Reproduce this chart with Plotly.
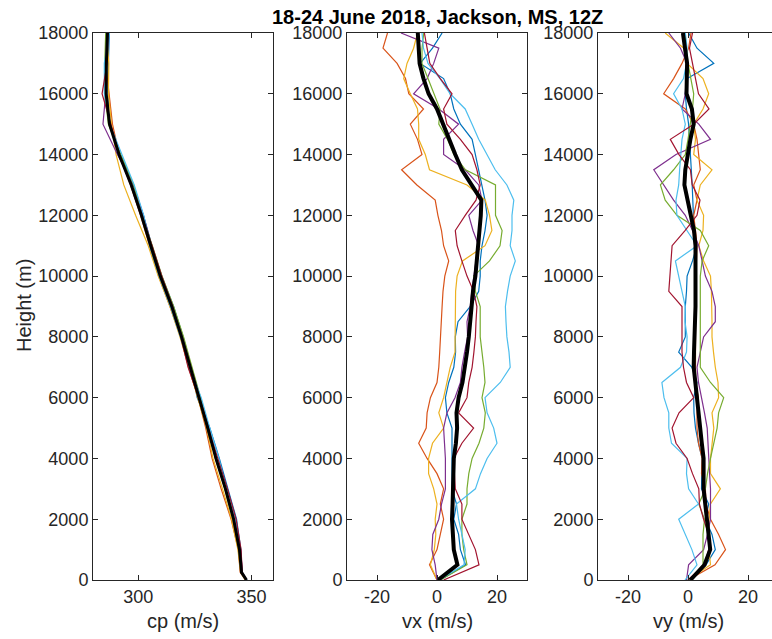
import plotly.graph_objects as go

# ---------------- data ----------------
colors = ["#0072BD", "#D95319", "#EDB120", "#7E2F8E", "#77AC30", "#4DBEEE", "#A2142F"]

heights = [0, 500, 1000, 1500, 2000, 2500, 3000, 3500, 4000, 4500, 5000, 5500, 6000,
           6500, 7000, 7500, 8000, 8500, 9000, 9500, 10000, 10500, 11000, 11500, 12000,
           12500, 13000, 13500, 14000, 14500, 15000, 15500, 16000, 16500, 17000, 17500, 18000]

heights_cp = [0, 250, 1000, 2000, 3000, 4000, 5000, 6000, 7000, 8000, 9000, 10000,
              11000, 12000, 13000, 14000, 15000, 16000, 17000, 18000]

# sound speed cp (m/s), one list per sounding
cp_1 = [348.0, 345.6, 345.3, 343.4, 339.6, 335.8, 331.6, 326.0, 323.4, 319.8, 315.6, 310.4, 306.0, 302.3, 297.8, 292.2, 287.0, 286.6, 286.8, 287.2]
cp_2 = [347.5, 345.0, 344.2, 341.0, 336.6, 332.6, 329.8, 326.4, 322.2, 318.6, 314.0, 309.0, 305.0, 301.0, 296.6, 291.6, 288.6, 287.2, 285.6, 286.0]
cp_3 = [347.2, 345.2, 344.0, 341.2, 337.2, 333.0, 330.2, 326.2, 322.4, 318.4, 314.0, 308.8, 304.4, 298.8, 293.6, 290.2, 288.2, 286.8, 287.0, 286.0]
cp_4 = [347.6, 346.0, 345.2, 342.6, 338.4, 334.0, 331.2, 327.4, 323.3, 319.7, 315.4, 310.2, 306.0, 302.2, 297.9, 290.8, 284.4, 285.6, 285.6, 286.8]
cp_5 = [347.8, 345.4, 344.4, 341.8, 338.2, 334.4, 330.4, 327.5, 323.6, 320.0, 315.6, 310.5, 306.2, 301.5, 298.0, 292.2, 286.8, 285.2, 285.2, 285.6]
cp_6 = [347.9, 345.8, 344.8, 342.8, 338.8, 335.6, 331.6, 327.8, 322.6, 318.6, 314.2, 309.2, 305.0, 302.4, 298.2, 292.8, 287.4, 285.0, 285.0, 287.2]
cp_7 = [347.4, 345.9, 345.4, 343.2, 339.4, 335.2, 331.0, 326.6, 322.0, 318.8, 315.2, 310.4, 306.1, 301.2, 296.8, 291.4, 287.9, 284.0, 286.2, 286.6]
cp_mean = [347.8, 345.6, 344.7, 342.1, 338.5, 334.3, 330.7, 326.8, 322.8, 319.1, 314.8, 309.7, 305.5, 301.4, 296.9, 291.5, 287.3, 285.8, 285.9, 286.4]

# east wind vx (m/s)
vx_1 = [1.1, 9.5, 7.8, 7.2, 5.6, 6.5, 5.0, 5.0, 5.0, 5.0, 5.0, 3.3, 2.8, 3.9, 5.6, 6.2, 6.1, 7.0, 11.1, 13.9, 14.4, 14.4, 15.0, 16.0, 16.7, 16.0, 15.0, 13.9, 12.8, 11.7, 7.8, 5.6, 4.4, 2.2, -5.6, -1.5, 1.7]
vx_2 = [0.0, -2.5, 0.0, 1.0, 2.2, 1.1, 2.2, 0.0, -3.3, -6.1, -3.6, -3.3, -2.2, 0.0, 0.6, 0.9, 1.1, 1.4, 1.7, 2.0, 2.6, 3.9, 2.2, 1.5, 0.3, -0.6, -6.7, -11.8, -5.0, -6.5, -8.9, -4.5, -9.4, -10.5, -13.3, -18.0, -16.5]
vx_3 = [0.0, -2.2, -0.9, -0.4, -0.6, 0.0, -1.1, -2.8, -2.8, -1.5, 2.2, 0.6, 2.2, 3.3, 4.4, 6.0, 6.1, 6.1, 6.1, 6.2, 6.7, 8.5, 16.0, 18.3, 17.5, 16.1, 10.0, -2.5, -3.9, -6.1, -6.1, -6.5, -8.9, -11.1, -10.0, -7.8, -6.5]
vx_4 = [0.0, -0.6, -1.7, -1.4, 0.6, 1.5, 2.8, 2.8, 2.8, 2.5, 2.2, 3.3, 6.0, 7.8, 8.3, 9.2, 10.2, 10.0, 11.1, 11.6, 12.2, 13.0, 13.9, 12.0, 10.6, 15.0, 13.9, 9.4, 2.2, 2.2, 7.2, 0.6, -7.8, -3.3, -1.1, 0.6, -12.0]
vx_5 = [1.1, 10.0, 8.9, 8.3, 8.3, 10.0, 10.0, 10.6, 11.7, 14.0, 15.6, 16.1, 15.0, 16.0, 15.6, 15.0, 14.4, 14.4, 14.4, 12.8, 12.2, 17.5, 21.0, 21.7, 19.5, 19.5, 19.5, 9.5, 5.6, 3.5, 0.6, 1.0, -1.1, -3.0, -5.0, -5.0, -4.4]
vx_6 = [0.6, 9.0, 9.4, 8.3, 7.2, 6.5, 12.8, 14.5, 16.7, 20.0, 18.9, 16.7, 16.0, 21.1, 24.4, 24.0, 23.3, 23.0, 22.8, 23.5, 24.4, 26.1, 24.4, 25.0, 25.0, 25.6, 23.3, 19.4, 16.7, 13.9, 11.7, 9.4, 4.4, 1.0, -3.0, -4.5, -5.0]
vx_7 = [2.2, 14.0, 12.8, 10.6, 8.3, 8.3, 6.1, 5.8, 5.6, 8.3, 12.2, 7.2, 10.0, 10.6, 11.7, 12.3, 12.8, 13.0, 13.3, 12.2, 10.0, 8.3, 6.7, 6.1, 9.4, 13.0, 14.4, 13.3, 11.7, 7.8, 3.3, 2.2, 5.0, 1.1, -2.4, -3.3, -4.2]
vx_mean = [0.3, 6.8, 5.6, 5.2, 5.0, 5.2, 5.4, 5.5, 5.6, 6.3, 6.7, 6.5, 7.2, 8.5, 9.4, 10.0, 10.6, 11.0, 11.3, 12.0, 12.8, 13.3, 13.9, 14.2, 14.6, 14.8, 11.7, 8.3, 6.1, 4.0, 2.2, 0.0, -2.8, -4.5, -5.8, -6.2, -6.4]

# north wind vy (m/s)
vy_1 = [0.0, 6.0, 9.1, 8.0, 5.8, 6.9, 4.5, 4.7, 4.7, 3.5, 2.5, 2.0, 1.9, 3.0, 1.3, -3.1, -0.9, -0.9, -0.9, -0.5, -0.3, 1.5, 3.0, 2.0, 1.9, 1.6, 1.4, 1.1, 0.8, 0.5, 0.2, -0.5, -0.9, -0.3, 8.6, 3.0, 0.2]
vy_2 = [0.0, 9.0, 12.5, 10.2, 7.5, 6.0, 5.8, 4.5, 4.7, 3.5, 3.0, 3.0, 3.5, 2.5, 2.5, 2.5, 2.5, 2.5, 2.5, 2.5, 2.5, 2.8, 3.0, 2.5, 1.9, 3.0, 1.9, 4.1, 3.6, 3.0, 1.9, -0.9, -8.1, -4.8, -2.0, 0.2, 1.0]
vy_3 = [0.0, 7.5, 7.0, 7.2, 7.0, 7.5, 10.8, 7.5, 7.5, 8.0, 8.6, 8.0, 10.2, 10.0, 9.1, 8.5, 8.0, 8.0, 8.0, 7.8, 7.5, 5.2, 3.6, 5.0, 5.2, 3.0, 4.1, 8.0, 1.9, 2.5, 1.9, 5.0, 6.9, 5.0, -0.3, -1.4, -7.6]
vy_4 = [-0.5, 0.2, 5.2, 6.5, 7.5, 7.5, 7.5, 7.2, 6.9, 6.6, 6.4, 5.5, 4.5, 3.5, 3.0, 4.0, 5.2, 9.1, 9.1, 8.0, 5.8, 4.7, 3.6, 1.5, -0.9, -4.8, -8.1, -11.4, -4.0, 7.5, 3.6, -2.0, -0.9, -0.5, -0.3, -2.5, -6.4]
vy_5 = [0.5, 5.0, 5.0, 5.0, 5.5, 3.6, 5.8, 6.5, 7.5, 8.5, 9.7, 10.2, 11.9, 7.5, 4.1, 4.1, 4.1, 4.1, 4.1, 4.1, 4.1, 4.7, 6.9, 4.1, -3.7, -7.6, -9.2, -4.8, -0.9, 0.0, 0.8, 1.5, 1.9, 1.0, 0.0, -0.5, -1.0]
vy_6 = [-1.0, 3.0, 1.3, -1.0, -3.1, 3.5, 0.2, -0.5, -0.3, -5.5, -6.4, -6.4, -8.0, -8.7, -2.5, -0.5, -0.3, -1.0, -0.9, -2.0, -3.0, -4.2, 3.0, -0.5, -3.7, -4.0, -3.1, -2.8, -2.5, -2.0, -0.9, -2.0, -4.8, -1.5, -0.5, -0.3, -0.9]
vy_7 = [0.0, 5.5, 6.9, 6.9, 5.2, 3.8, 3.6, 1.5, -0.3, -4.0, -5.3, -3.0, 1.9, -0.5, -1.5, -2.0, -2.0, -2.0, -2.0, -6.4, -6.0, -5.5, -5.3, -1.0, 3.0, 4.0, 1.4, 0.8, -3.0, -5.9, 1.9, 7.0, 3.5, 2.5, 1.5, 0.5, 1.5]
vy_mean = [0.8, 5.5, 7.4, 6.8, 6.3, 5.8, 5.2, 5.2, 5.2, 4.6, 4.1, 3.5, 3.0, 2.5, 1.9, 2.0, 2.2, 2.5, 2.5, 2.5, 2.5, 2.5, 2.5, 2.0, 1.0, -0.3, -1.2, -0.9, -0.1, 0.8, 1.9, 1.3, -0.5, -0.5, -0.3, -1.0, -1.7]

cp_series = [cp_1, cp_2, cp_3, cp_4, cp_5, cp_6, cp_7]
vx_series = [vx_1, vx_2, vx_3, vx_4, vx_5, vx_6, vx_7]
vy_series = [vy_1, vy_2, vy_3, vy_4, vy_5, vy_6, vy_7]

y_ticks = [0, 2000, 4000, 6000, 8000, 10000, 12000, 14000, 16000, 18000]
y_ticktext = ["0", "2000", "4000", "6000", "8000", "10000", "12000", "14000", "16000", "18000"]
cp_ticks = [300, 350]
cp_ticktext = ["300", "350"]
v_ticks = [-20, 0, 20]
v_ticktext = ["-20", "0", "20"]

title_text = "18-24 June 2018, Jackson, MS, 12Z"
xlabels = ["cp (m/s)", "vx (m/s)", "vy (m/s)"]
ylabel = "Height (m)"

# ---------------- figure ----------------
W, H = 772, 639
FONT = "Liberation Sans, Arial, Helvetica, sans-serif"
AX = "#262626"

fig = go.Figure()

panels = [(cp_series, cp_mean, heights_cp, "x", "y", 3),
          (vx_series, vx_mean, heights, "x2", "y2", 4),
          (vy_series, vy_mean, heights, "x3", "y3", 4)]
for series, mean, hts, xa, ya, mw in panels:
    for vals, col in zip(series, colors):
        fig.add_trace(go.Scatter(x=vals, y=hts, mode="lines", xaxis=xa, yaxis=ya,
                                 line=dict(color=col, width=1.2), showlegend=False,
                                 hoverinfo="skip"))
    fig.add_trace(go.Scatter(x=mean, y=hts, mode="lines", xaxis=xa, yaxis=ya,
                             line=dict(color="black", width=mw), showlegend=False,
                             hoverinfo="skip"))

def px_x(p):
    return p / W

def px_y(p):
    return 1 - p / H

ydom = [px_y(580), px_y(33)]

common = dict(showline=True, linecolor=AX, linewidth=1, ticks="inside", ticklen=5,
              tickcolor=AX, tickwidth=1, showgrid=False, zeroline=False, automargin=False,
              tickfont=dict(family=FONT, size=18, color=AX))

fig.update_layout(
    template="none",
    width=W, height=H,
    margin=dict(l=0, r=0, t=0, b=0, autoexpand=False),
    paper_bgcolor="white", plot_bgcolor="white",
    xaxis=dict(domain=[px_x(93), px_x(273)], range=[280, 359.5], tickvals=cp_ticks,
               ticktext=cp_ticktext, anchor="y", mirror="ticks", **common),
    xaxis2=dict(domain=[px_x(347), px_x(527)], range=[-30, 30], tickvals=v_ticks,
                ticktext=v_ticktext, anchor="y2", mirror="ticks", **common),
    xaxis3=dict(domain=[px_x(598), 1.0], range=[-30, 28], tickvals=v_ticks,
                ticktext=v_ticktext, anchor="y3", mirror="ticks", **common),
    yaxis=dict(domain=ydom, range=[0, 18000], tickvals=y_ticks, ticktext=y_ticktext,
               anchor="x", mirror="ticks", **common),
    yaxis2=dict(domain=ydom, range=[0, 18000], tickvals=y_ticks, ticktext=y_ticktext,
                anchor="x2", mirror="ticks", **common),
    yaxis3=dict(domain=ydom, range=[0, 18000], tickvals=y_ticks, ticktext=y_ticktext,
                anchor="x3", mirror=False, **common),
)

annotations = [
    dict(text="<b>" + title_text + "</b>", x=px_x(437), y=px_y(17), xref="paper", yref="paper",
         xanchor="center", yanchor="middle", showarrow=False,
         font=dict(family=FONT, size=20, color="black")),
    dict(text=ylabel, x=px_x(24), y=px_y(306), xref="paper", yref="paper", textangle=-90,
         xanchor="center", yanchor="middle", showarrow=False,
         font=dict(family=FONT, size=20, color=AX)),
]
for cx, lab in zip([183, 437, 688], xlabels):
    annotations.append(dict(text=lab, x=px_x(cx), y=px_y(621), xref="paper", yref="paper",
                            xanchor="center", yanchor="middle", showarrow=False,
                            font=dict(family=FONT, size=20, color=AX)))
fig.update_layout(annotations=annotations)

fig.write_html("out.html")
